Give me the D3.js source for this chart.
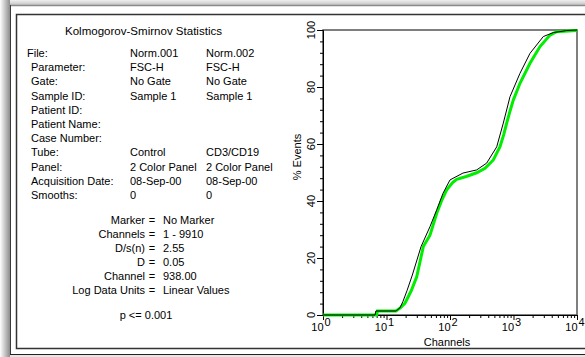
<!DOCTYPE html>
<html><head><meta charset="utf-8">
<script src="https://cdn.jsdelivr.net/npm/d3@7"></script>
<style>
html,body{margin:0;padding:0;background:#fff;}
svg{display:block;}
text{font-family:"Liberation Sans",Arial,sans-serif;font-size:11px;fill:#000;}
</style></head>
<body>
<svg id="c" width="585" height="357"></svg>
<script>
// ---- data ----
const headerLabels = ["File:", "Parameter:", "Gate:", "Sample ID:", "Patient ID:", "Patient Name:", "Case Number:", "Tube:", "Panel:", "Acquisition Date:", "Smooths:"];
const file1Values = ["Norm.001", "FSC-H", "No Gate", "Sample 1", "", "", "", "Control", "2 Color Panel", "08-Sep-00", "0"];
const file2Values = ["Norm.002", "FSC-H", "No Gate", "Sample 1", "", "", "", "CD3/CD19", "2 Color Panel", "08-Sep-00", "0"];
const statLabels = ["Marker", "Channels", "D/s(n)", "D", "Channel", "Log Data Units"];
const statValues = ["No Marker", "1 - 9910", "2.55", "0.05", "938.00", "Linear Values"];
const pText = "p <= 0.001";
const title = "Kolmogorov-Smirnov Statistics";

const yTicks = [0, 20, 40, 60, 80, 100];
const xTickExp = [0, 1, 2, 3, 4];

// cumulative % events vs channel (green = Norm.002, black = Norm.001)
const greenX = [1, 7.0, 7.2, 14.1, 16.5, 19.6, 24.5, 29.9, 38.0, 48.4, 61.8, 75, 88.8, 110, 127.5, 180, 263, 356, 481, 613, 700, 781, 880, 993, 1265, 1818, 2614, 3758, 4789, 9640, 10000];
const greenY = [0, 0, 1.4, 1.4, 2.5, 4.2, 8.5, 13.4, 24, 28, 35.7, 40.5, 43.9, 46.5, 47.6, 48.6, 49.9, 51.5, 54.4, 59.1, 63.2, 67.3, 71.5, 75.4, 81.3, 88.3, 94.2, 98.2, 99.4, 99.8, 100];
const blackX = [1, 6.6, 6.8, 14.1, 16.3, 18.2, 21, 25.5, 35, 48.4, 62, 77.6, 100, 160, 263, 378, 544, 690, 881, 1265, 1818, 2946, 4236, 6888, 10000];
const blackY = [0, 0, 1.4, 1.4, 2.5, 4.8, 8.5, 14, 24, 31, 37, 42.7, 47.4, 49.8, 50.9, 53.3, 59, 67.3, 76.6, 84.8, 91.8, 97.7, 99.1, 99.8, 100];

// ---- drawing ----
const svg = d3.select("#c");

// window frame
const defs = svg.append("defs");
const gl = defs.append("linearGradient").attr("id","gl").attr("x1","0").attr("x2","1").attr("y1","0").attr("y2","0");
gl.append("stop").attr("offset","0").attr("stop-color","#ffffff");
gl.append("stop").attr("offset","1").attr("stop-color","#8c8c8c");
const gt = defs.append("linearGradient").attr("id","gt").attr("x1","0").attr("x2","0").attr("y1","0").attr("y2","1");
gt.append("stop").attr("offset","0").attr("stop-color","#f0f0f0");
gt.append("stop").attr("offset","1").attr("stop-color","#c4c4c4");

svg.append("rect").attr("x",0).attr("y",0).attr("width",585).attr("height",5).attr("fill","url(#gt)");
svg.append("rect").attr("x",0).attr("y",0).attr("width",10).attr("height",357).attr("fill","url(#gl)");
svg.append("rect").attr("x",10).attr("y",355).attr("width",575).attr("height",2).attr("fill","#e6e6e6");
// outer frame lines
svg.append("line").attr("x1",10).attr("x2",585).attr("y1",5.5).attr("y2",5.5).attr("stroke","#8a8a8a").attr("stroke-width",1.5);
svg.append("line").attr("x1",10.5).attr("x2",10.5).attr("y1",5).attr("y2",355).attr("stroke","#3a3a3a").attr("stroke-width",1);
svg.append("line").attr("x1",10).attr("x2",585).attr("y1",354.5).attr("y2",354.5).attr("stroke","#222").attr("stroke-width",1);
// inner box
svg.append("path").attr("d","M585,14.5 H16.5 V348.5 H585").attr("fill","none").attr("stroke","#333").attr("stroke-width",1.5);

// left statistics text
svg.append("text").attr("x",65).attr("y",35).attr("textLength",157).attr("lengthAdjust","spacingAndGlyphs").text(title);
const rowY = i => 57 + i * 14.2;
headerLabels.forEach((t,i)=>{
  svg.append("text").attr("x", i===0 ? 27 : 31).attr("y", rowY(i)).text(t);
  svg.append("text").attr("x",130).attr("y",rowY(i)).text(file1Values[i]);
  svg.append("text").attr("x",206).attr("y",rowY(i)).text(file2Values[i]);
});
const statY = i => 224 + i * 14;
statLabels.forEach((t,i)=>{
  svg.append("text").attr("x",145).attr("y",statY(i)).attr("text-anchor","end").text(t);
  svg.append("text").attr("x",152).attr("y",statY(i)).attr("text-anchor","middle").text("=");
  svg.append("text").attr("x",163).attr("y",statY(i)).text(statValues[i]);
});
svg.append("text").attr("x",146).attr("y",319).attr("text-anchor","middle").text(pText);

// plot
const x = d3.scaleLog().domain([1,10000]).range([323,577]);
const y = d3.scaleLinear().domain([0,100]).range([315,30]);

// frame of plot
svg.append("rect").attr("x",323).attr("y",30).attr("width",577-323).attr("height",315-30)
  .attr("fill","none").attr("stroke","#555").attr("stroke-width",1.5);

// y axis
const yMinor = d3.range(0,101,4).filter(v=>v%20!==0);
svg.append("g").attr("transform","translate(323,0)")
  .call(d3.axisLeft(y).tickValues(yMinor).tickSize(3).tickFormat(""))
  .call(g=>{g.select(".domain").remove(); g.selectAll("line").attr("stroke","#000");});
svg.append("g").attr("transform","translate(323,0)")
  .call(d3.axisLeft(y).tickValues(yTicks).tickSize(6).tickFormat(""))
  .call(g=>{g.select(".domain").attr("stroke","#000"); g.selectAll("line").attr("stroke","#000");});
yTicks.forEach(v=>{
  svg.append("text").attr("transform",`translate(315,${y(v)}) rotate(-90)`).attr("text-anchor","middle").text(v);
});
svg.append("text").attr("transform","translate(301,157) rotate(-90)").attr("text-anchor","middle").text("% Events");

// x axis
const xMinor = [];
for (let e=0;e<4;e++) for (let m=2;m<=9;m++) xMinor.push(m*Math.pow(10,e));
svg.append("g").attr("transform","translate(0,315)")
  .call(d3.axisBottom(x).tickValues(xMinor).tickSize(3).tickFormat(""))
  .call(g=>{g.select(".domain").remove(); g.selectAll("line").attr("stroke","#000");});
svg.append("g").attr("transform","translate(0,315)")
  .call(d3.axisBottom(x).tickValues(xTickExp.map(e=>Math.pow(10,e))).tickSize(5).tickFormat(""))
  .call(g=>{g.select(".domain").attr("stroke","#000"); g.selectAll("line").attr("stroke","#000");});
xTickExp.forEach(e=>{
  const t = svg.append("text").attr("x",x(Math.pow(10,e))-2).attr("y",331).attr("text-anchor","middle");
  t.append("tspan").text("10");
  t.append("tspan").attr("dy",-5).attr("dx",1).style("font-size","11px").text(e);
});
svg.append("text").attr("x",447).attr("y",346).attr("text-anchor","middle").text("Channels");

// curves
const line = d3.line().x(d=>x(d[0])).y(d=>y(d[1]));
svg.append("path").datum(greenX.map((v,i)=>[v,greenY[i]]))
  .attr("d",line).attr("fill","none").attr("stroke","#00ee00").attr("stroke-width",3);
svg.append("path").datum(blackX.map((v,i)=>[v,blackY[i]]))
  .attr("d",line).attr("fill","none").attr("stroke","#000").attr("stroke-width",1);
</script>
</body></html>
